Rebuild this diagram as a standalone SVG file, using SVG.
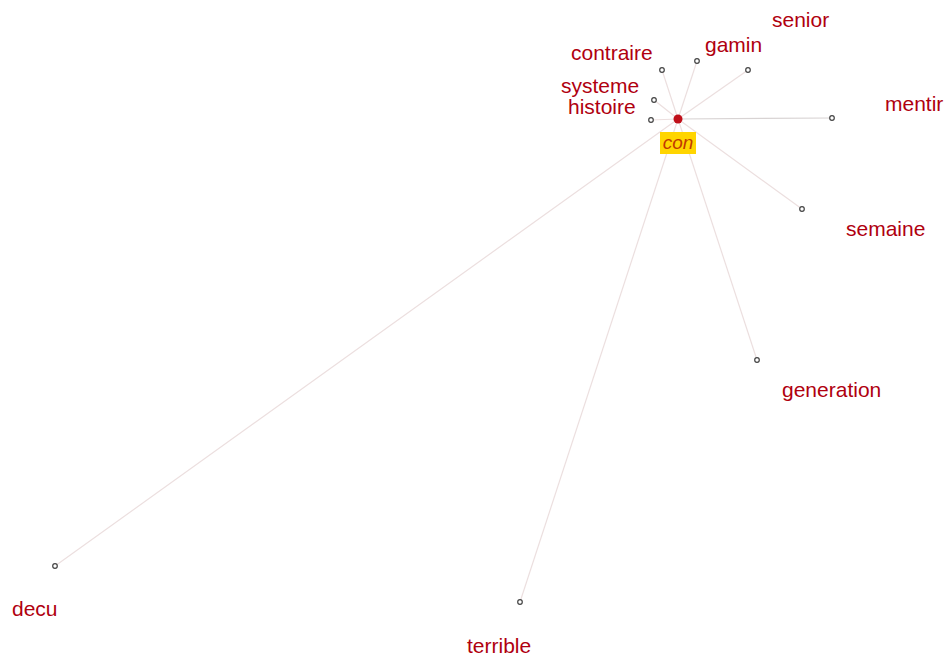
<svg xmlns="http://www.w3.org/2000/svg" width="950" height="658" viewBox="0 0 950 658">
<style>
.lbl{font-family:"Liberation Sans",Arial,sans-serif;font-size:21px;fill:#b0000f}
.nd{fill:#fff;stroke:#444;stroke-width:1.2}
.edge{stroke:#ecdfdf;stroke-width:1.2;fill:none}
</style>
<rect width="950" height="658" fill="#fff"/>
<g id="edges">
<line class="edge" x1="678" y1="119" x2="662" y2="70"/>
<line class="edge" x1="678" y1="119" x2="697" y2="61"/>
<line class="edge" x1="678" y1="119" x2="748" y2="70"/>
<line class="edge" x1="678" y1="119" x2="654" y2="100"/>
<line class="edge" x1="678" y1="119" x2="651" y2="120"/>
<line class="edge" x1="678" y1="119" x2="832" y2="118" style="stroke:#d8d3d3"/>
<line class="edge" x1="678" y1="119" x2="802" y2="209"/>
<line class="edge" x1="678" y1="119" x2="757" y2="360"/>
<line class="edge" x1="678" y1="119" x2="55" y2="566"/>
<line class="edge" x1="678" y1="119" x2="520" y2="602"/>
</g>
<g id="node-senior"><circle class="nd" cx="748" cy="70" r="2.3"/><text class="lbl" x="772" y="27">senior</text></g>
<g id="node-gamin"><circle class="nd" cx="697" cy="61" r="2.3"/><text class="lbl" x="705" y="52">gamin</text></g>
<g id="node-contraire"><circle class="nd" cx="662" cy="70" r="2.3"/><text class="lbl" x="571" y="60">contraire</text></g>
<g id="node-systeme"><circle class="nd" cx="654" cy="100" r="2.3"/><text class="lbl" x="561" y="93">systeme</text></g>
<g id="node-histoire"><circle class="nd" cx="651" cy="120" r="2.3"/><text class="lbl" x="568" y="114">histoire</text></g>
<g id="node-mentir"><circle class="nd" cx="832" cy="118" r="2.3"/><text class="lbl" x="885" y="111">mentir</text></g>
<g id="node-semaine"><circle class="nd" cx="802" cy="209" r="2.3"/><text class="lbl" x="846" y="236">semaine</text></g>
<g id="node-generation"><circle class="nd" cx="757" cy="360" r="2.3"/><text class="lbl" x="782" y="397">generation</text></g>
<g id="node-decu"><circle class="nd" cx="55" cy="566" r="2.3"/><text class="lbl" x="12" y="616">decu</text></g>
<g id="node-terrible"><circle class="nd" cx="520" cy="602" r="2.3"/><text class="lbl" x="467" y="653">terrible</text></g>
<g id="node-con">
<circle cx="678" cy="119" r="4.5" fill="#c0101a"/>
<rect x="660" y="132" width="36" height="22" fill="#ffd500"/>
<text x="678" y="149" text-anchor="middle" font-family="'Liberation Sans',Arial,sans-serif" font-size="19" font-style="italic" fill="#c23a00">con</text>
</g>
</svg>
